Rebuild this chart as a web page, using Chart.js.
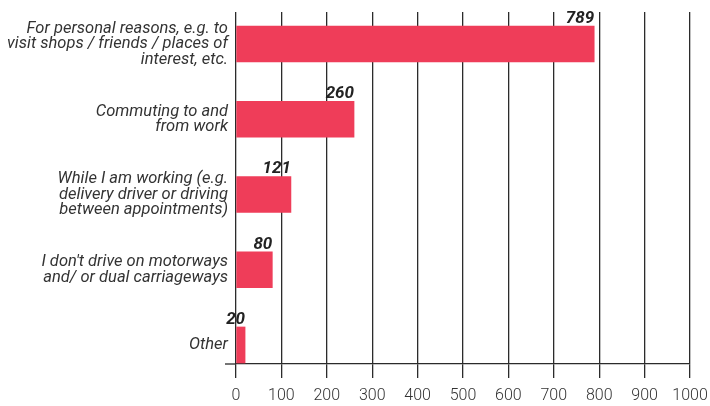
<!DOCTYPE html>
<html><head><meta charset="utf-8">
<script src="https://cdn.jsdelivr.net/npm/chart.js@4/dist/chart.umd.min.js"></script>
<style>html,body{margin:0;padding:0;background:#fff}#wrap{width:710px;height:406px}</style>
</head><body><div id="wrap"><canvas id="c" width="710" height="406"></canvas></div>
<script>
const categories = [
  ['For personal reasons, e.g. to','visit shops / friends / places of','interest, etc.'],
  ['Commuting to and','from work'],
  ['While I am working (e.g.','delivery driver or driving','between appointments)'],
  ["I don't drive on motorways",'and/ or dual carriageways'],
  'Other'
];
const values = [789, 260, 121, 80, 20];
const xTicks = [0,100,200,300,400,500,600,700,800,900,1000];

const ink = '#2b2b2b';
const barLabels = {
  id: 'barLabels',
  afterDatasetsDraw(chart) {
    const ctx = chart.ctx;
    const meta = chart.getDatasetMeta(0);
    ctx.save();
    ctx.font = 'italic bold 17px Roboto';
    ctx.fillStyle = '#222';
    ctx.textAlign = 'right';
    ctx.textBaseline = 'alphabetic';
    meta.data.forEach((bar, i) => {
      const top = bar.y - bar.height / 2;
      ctx.fillText(String(values[i]), bar.x, top - 3);
    });
    ctx.restore();
  },
  afterDraw(chart) {
    const {ctx, chartArea} = chart;
    ctx.save();
    ctx.strokeStyle = ink;
    ctx.lineWidth = 1.3;
    ctx.beginPath();
    ctx.moveTo(chartArea.left - 11, chartArea.bottom);
    ctx.lineTo(chartArea.left, chartArea.bottom);
    ctx.stroke();
    ctx.restore();
  }
};

new Chart(document.getElementById('c'), {
  type: 'bar',
  data: {
    datasets: [{
      data: values.map((v, i) => ({x: v, y: i})),
      backgroundColor: '#ef3d59',
      barThickness: 36
    }]
  },
  options: {
    indexAxis: 'y',
    responsive: false,
    animation: false,
    layout: {padding: {top: 12, right: 20, left: 0, bottom: 0}},
    plugins: {legend: {display: false}, tooltip: {enabled: false}},
    scales: {
      x: {
        type: 'linear',
        min: 0, max: 1000,
        afterBuildTicks: ax => { ax.ticks = xTicks.map(v => ({value: v})); },
        afterFit: s => { s.height = 42; s.paddingLeft = 0; s.paddingRight = 0; },
        grid: {color: ink, lineWidth: 1.3, tickLength: 14, tickColor: ink},
        border: {display: true, color: ink, width: 1.3},
        ticks: {color: '#333', padding: 8, font: {family: 'Roboto', size: 16, weight: 300}, maxRotation: 0,
                callback: v => String(v)}
      },
      y: {
        type: 'linear',
        reverse: true,
        offset: false,
        min: -0.425, max: 4.253,
        afterBuildTicks: ax => { ax.ticks = categories.map((c, i) => ({value: i})); },
        afterFit: s => { s.width = 236; s.paddingTop = 0; s.paddingBottom = 0; },
        grid: {display: false, drawTicks: false, tickLength: 0},
        border: {display: false},
        ticks: {
          color: '#333', padding: 8,
          font: {family: 'Roboto', size: 16.5, style: 'italic', weight: 400, lineHeight: 0.94},
          callback: v => categories[v]
        }
      }
    }
  },
  plugins: [barLabels]
});
</script></body></html>
